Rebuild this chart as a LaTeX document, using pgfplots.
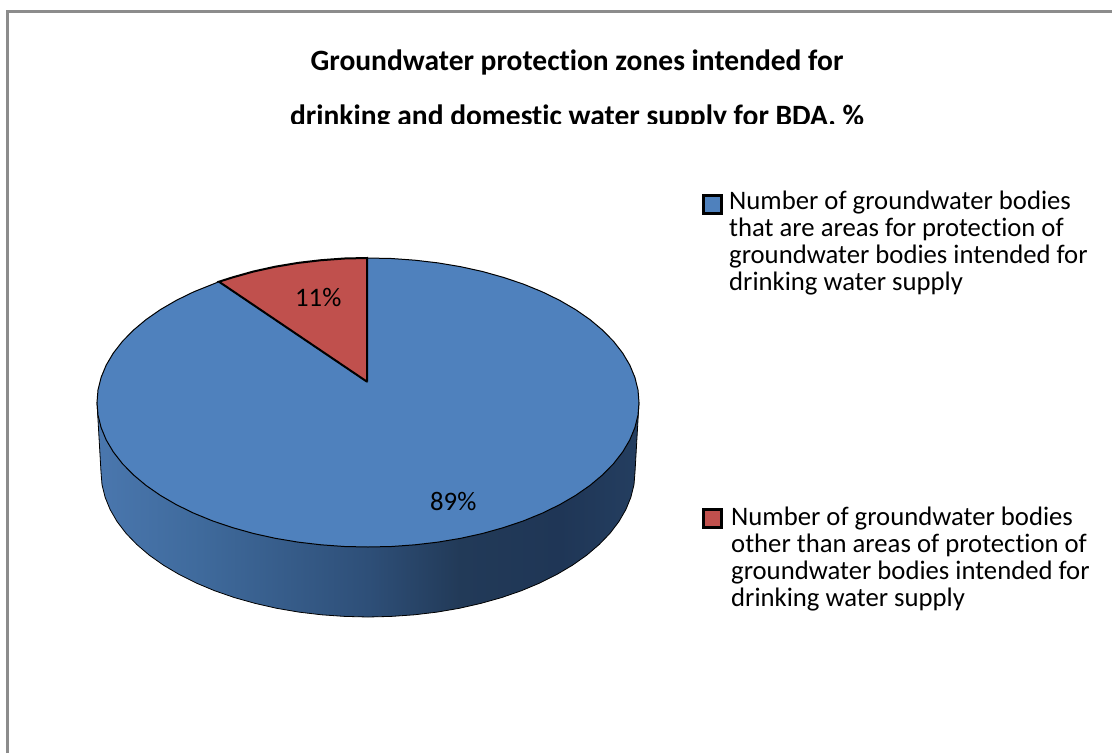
\documentclass[border=0pt]{standalone}
\usepackage{fontspec}
\setmainfont{Carlito}[Ligatures=NoCommon]
\usepackage{pgfplots}
\pgfplotsset{compat=1.18}

\definecolor{pieblue}{HTML}{4F81BD}
\definecolor{piered}{HTML}{C0504D}
\definecolor{frame}{HTML}{8C8C8C}
\definecolor{sa}{HTML}{4A77AE}
\definecolor{sb}{HTML}{3F6A9C}
\definecolor{sc}{HTML}{2E4F78}
\definecolor{sd}{HTML}{223A58}
\definecolor{se}{HTML}{1F3656}
\definecolor{sf}{HTML}{243E60}
\pgfdeclarehorizontalshading{sideblue}{100bp}{
  color(0bp)=(sa); color(25bp)=(sa); color(34.5bp)=(sb); color(50bp)=(sc);
  color(58.5bp)=(sd); color(67.7bp)=(se); color(75bp)=(sf); color(100bp)=(sf)}

\begin{document}
\begin{tikzpicture}
\begin{axis}[
  scale only axis, width=1112pt, height=753pt,
  xmin=0, xmax=1112, ymin=0, ymax=753, y dir=reverse,
  axis lines=none, clip=true,
]
% page and frame
\addplot[fill=white, draw=none] coordinates {(0,0)(1112,0)(1112,753)(0,753)(0,0)};
\addplot[draw=frame, line width=3pt] coordinates {(7.5,753)(7.5,11.3)(1112,11.3)};

% side of the pie
\addplot[shading=sideblue, draw=black, line width=0.8pt] coordinates {
  (639,402.5)(635,472)(634,484.6)(630.9,497.2)(625.9,509.5)(618.9,521.6)(610,533.3)
  (599.2,544.5)(586.7,555.2)(572.5,565.2)(556.8,574.5)(539.6,583.1)(521.2,590.8)
  (501.5,597.6)(480.8,603.4)(459.3,608.3)(437.1,612.1)(414.4,614.8)(391.3,616.4)
  (368,617)(344.7,616.4)(321.6,614.8)(298.9,612.1)(276.7,608.3)(255.2,603.4)
  (234.5,597.6)(214.8,590.8)(196.4,583.1)(179.2,574.5)(163.5,565.2)(149.3,555.2)
  (136.8,544.5)(126,533.3)(117.1,521.6)(110.1,509.5)(105.1,497.2)(102,484.6)(101,472)
  (97,402.5)(639,402.5)};

% 89 % slice
\addplot[fill=pieblue, draw=black, line width=1pt] coordinates {
  (367,258)(391.6,258.5)(415,260.2)(438.1,262.9)(460.7,266.7)(482.5,271.5)(503.5,277.4)
  (523.4,284.1)(542.2,291.8)(559.6,300.3)(575.6,309.6)(590,319.6)(602.7,330.25)
  (613.6,341.4)(622.7,353.1)(629.8,365.1)(634.9,377.4)(638,389.9)(639,402.5)
  (638,415.1)(634.9,427.6)(629.8,439.9)(622.7,451.9)(613.6,463.6)(602.7,474.75)
  (590,485.4)(575.6,495.4)(559.6,504.7)(542.2,513.2)(523.4,520.9)(503.5,527.6)
  (482.5,533.5)(460.7,538.3)(438.1,542.1)(415,544.8)(391.6,546.5)(368,547)
  (344.4,546.5)(321,544.8)(297.9,542.1)(275.3,538.3)(253.5,533.5)(232.5,527.6)
  (212.6,520.9)(193.8,513.2)(176.4,504.7)(160.4,495.4)(146,485.4)(133.3,474.75)
  (122.4,463.6)(113.3,451.9)(106.2,439.9)(101.1,427.6)(98,415.1)(97,402.5)
  (98,389.9)(101.1,377.4)(106.2,365.1)(113.3,353.1)(122.4,341.4)(133.3,330.25)
  (146,319.6)(160.4,309.6)(176.4,300.3)(193.8,291.8)(219,281.7)(367,381.7)(367,258)};

% 11 % slice
\addplot[fill=piered, draw=black, line width=2pt, line join=miter] coordinates {
  (367,381.7)(219,281.7)(232.5,277.4)(253.5,271.5)(275.3,266.7)(297.9,262.9)
  (321,260.2)(344.4,258.5)(367,258)(367,381.7)};

% data labels
\node[inner sep=0pt, anchor=base west, font=\fontsize{26.7}{27}\selectfont] at (axis cs:295,306) {11\%};
\node[inner sep=0pt, anchor=base west, font=\fontsize{26.7}{27}\selectfont] at (axis cs:430,510) {89\%};

% legend keys
\addplot[only marks, mark=square*, mark size=9pt, mark options={fill=pieblue, draw=black, line width=3pt}]
  coordinates {(712.8,204)};
\addplot[only marks, mark=square*, mark size=9pt, mark options={fill=piered, draw=black, line width=3pt}]
  coordinates {(712.5,518.5)};

% legend text
\node[inner sep=0pt, anchor=north west, align=left, font=\fontsize{26.7}{27}\selectfont] at (axis cs:729,190.5) {%
  Number of groundwater bodies\\
  that are areas for protection of\\
  groundwater bodies intended for\\
  drinking water supply};
\node[inner sep=0pt, anchor=north west, align=left, font=\fontsize{26.7}{27}\selectfont] at (axis cs:731,506.5) {%
  Number of groundwater bodies\\
  other than areas of protection of\\
  groundwater bodies intended for\\
  drinking water supply};

% title, second line cut off at its baseline as in the source
\node[anchor=base, font=\bfseries\fontsize{29.5}{30}\selectfont] at (axis cs:577,70) {Groundwater protection zones intended for};
\node[anchor=base, font=\bfseries\fontsize{29.5}{30}\selectfont] at (axis cs:577,125) {drinking and domestic water supply for BDA, \%};
\addplot[fill=white, draw=none] coordinates {(200,124)(950,124)(950,145)(200,145)(200,124)};
\end{axis}
\end{tikzpicture}
\end{document}
